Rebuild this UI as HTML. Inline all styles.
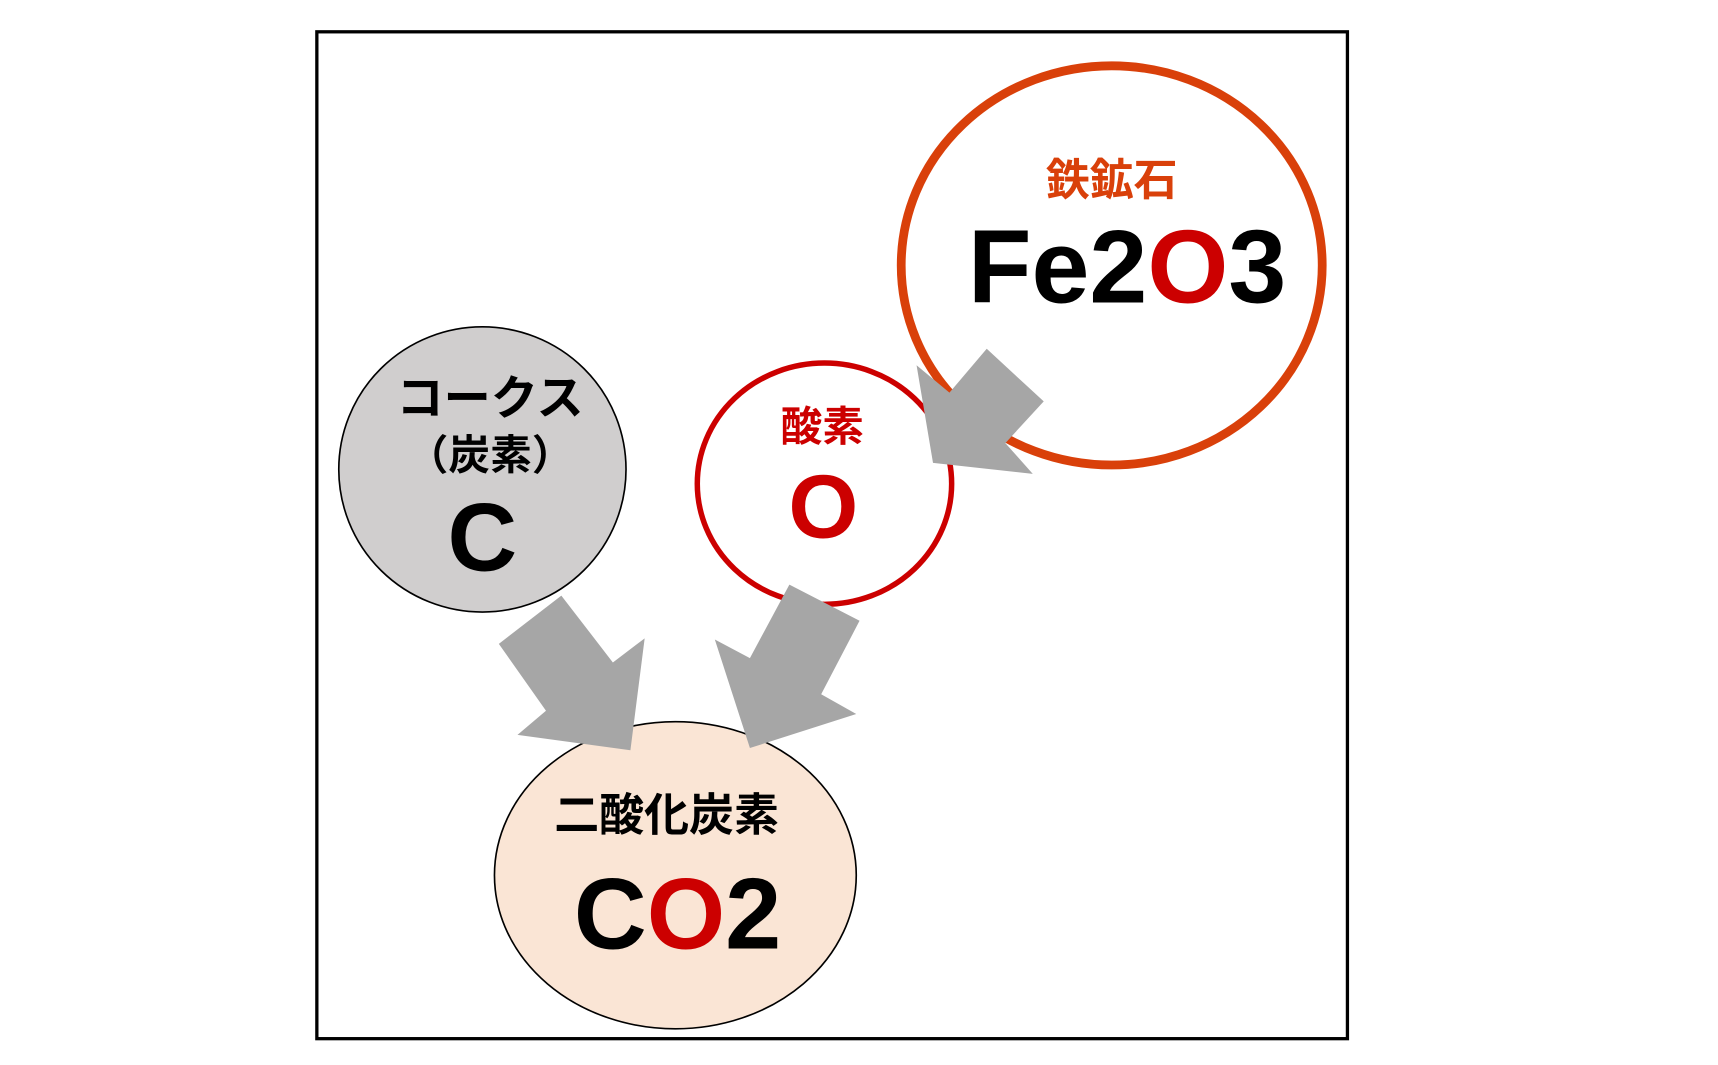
<!DOCTYPE html>
<html><head><meta charset="utf-8"><style>
html,body{margin:0;padding:0;background:#fff;}
svg{display:block;}
text{font-family:"Liberation Sans","Noto Sans CJK JP",sans-serif;font-weight:bold;text-anchor:middle;}
</style></head><body>
<svg width="1718" height="1065" viewBox="0 0 1567 971" preserveAspectRatio="none" xmlns="http://www.w3.org/2000/svg">
<rect x="289" y="29" width="940" height="918" fill="#fff" stroke="#000" stroke-width="3"/>
<ellipse cx="1014" cy="242" rx="192" ry="182" fill="#fff" stroke="#d9400a" stroke-width="8"/>
<text x="1014" y="178" font-size="40" fill="#d9400a">鉄鉱石</text>
<text x="1028" y="276" font-size="95"><tspan fill="#000">Fe2</tspan><tspan fill="#cc0000">O</tspan><tspan fill="#000">3</tspan></text>
<ellipse cx="752" cy="441" rx="116" ry="110" fill="#fff" stroke="#cc0000" stroke-width="5"/>
<text x="750" y="402" font-size="38" fill="#cc0000">酸素</text>
<text x="751" y="490" font-size="82" fill="#cc0000">O</text>
<ellipse cx="440" cy="428" rx="131" ry="130" fill="#d0cece" stroke="#000" stroke-width="1.5"/>
<text x="447" y="378" font-size="43" fill="#000">コークス</text>
<text x="447" y="428" font-size="38" fill="#000">（炭素）</text>
<text x="440" y="520" font-size="88" fill="#000">C</text>
<ellipse cx="616" cy="798" rx="165" ry="140" fill="#fae5d5" stroke="#000" stroke-width="1.5"/>
<text x="608" y="757" font-size="41" fill="#000">二酸化炭素</text>
<text x="618" y="865" font-size="92"><tspan fill="#000">C</tspan><tspan fill="#cc0000">O</tspan><tspan fill="#000">2</tspan></text>
<g fill="#a6a6a6">
<polygon points="900,318 952,366 917,404 942,432 851,422 836,333 866,358"/>
<polygon points="455,587 512,543 559,604 588,582 575,684 472,670 498,648"/>
<polygon points="720,533 784,566 749,633 781,651 684,682 652,583 684,600"/>
</g>
</svg>
</body></html>
